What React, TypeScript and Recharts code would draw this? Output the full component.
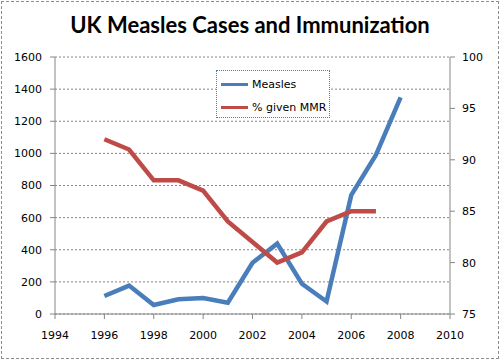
import React from "react";
import { ComposedChart, Line, XAxis, YAxis, CartesianGrid, Legend } from "recharts";

const years = [1996, 1997, 1998, 1999, 2000, 2001, 2002, 2003, 2004, 2005, 2006, 2007, 2008];
const measles = [112, 177, 56, 92, 100, 70, 319, 438, 188, 78, 740, 990, 1348];
const mmr: (number | null)[] = [92, 91, 88, 88, 87, 84, 82, 80, 81, 84, 85, 85, null];
const xTicks = [1994, 1996, 1998, 2000, 2002, 2004, 2006, 2008, 2010];
const leftTicks = [0, 200, 400, 600, 800, 1000, 1200, 1400, 1600];
const rightTicks = [75, 80, 85, 90, 95, 100];

const data = years.map((y, i) => ({ year: y, measles: measles[i], mmr: mmr[i] }));

const BLUE = "#4a7ebb";
const RED = "#be4b48";
const AXIS = "#868686";
const FONT = "DejaVu Sans";

const LegendBox = () => (
  <div
    style={{
      width: 112,
      height: 46,
      border: `1px dotted ${BLUE}`,
      background: "#fff",
      fontFamily: FONT,
      fontSize: 11,
      color: "#000",
      position: "relative",
    }}
  >
    {[
      { label: "Measles", color: BLUE, top: 13 },
      { label: "% given MMR", color: RED, top: 36 },
    ].map((it) => (
      <div key={it.label} style={{ position: "absolute", left: 4, top: it.top - 7, height: 14, display: "flex", alignItems: "center" }}>
        <div style={{ width: 27, height: 3, background: it.color }} />
        <span style={{ marginLeft: 4, whiteSpace: "nowrap" }}>{it.label}</span>
      </div>
    ))}
  </div>
);

export default function App() {
  return (
    <div style={{ position: "absolute", left: 0, top: 0, width: 500, height: 360, background: "#fff" }}>
      <div
        style={{
          position: "absolute",
          left: 1,
          top: 1,
          width: 496,
          height: 356,
          border: "1px dashed #8c8c8c",
          pointerEvents: "none",
        }}
      />
      <div
        style={{
          position: "absolute",
          left: 0,
          top: 12,
          width: 500,
          textAlign: "center",
          fontFamily: "Lato",
          fontWeight: 700,
          fontSize: 22,
          color: "#000",
          lineHeight: "26px",
        }}
      >
        UK Measles Cases and Immunization
      </div>
      <ComposedChart
        width={500}
        height={360}
        data={data}
        margin={{ top: 57, right: 10, bottom: 16, left: 0 }}
        style={{ position: "absolute", left: 0, top: 0 }}
      >
        <CartesianGrid yAxisId="left" vertical={false} stroke={AXIS} strokeDasharray="2 2" />
        <XAxis
          dataKey="year"
          type="number"
          domain={[1994, 2010]}
          ticks={xTicks}
          interval={0}
          height={30}
          tickSize={5}
          tickMargin={12}
          stroke={AXIS}
          tick={{ fill: "#000", fontFamily: FONT, fontSize: 11 }}
        />
        <YAxis
          yAxisId="left"
          orientation="left"
          domain={[0, 1600]}
          ticks={leftTicks}
          interval={0}
          width={55}
          tickSize={5}
          tickMargin={8}
          stroke={AXIS}
          tick={{ fill: "#000", fontFamily: FONT, fontSize: 11 }}
        />
        <YAxis
          yAxisId="right"
          orientation="right"
          domain={[75, 100]}
          ticks={rightTicks}
          interval={0}
          width={40}
          tickSize={5}
          tickMargin={7}
          stroke={AXIS}
          tick={{ fill: "#000", fontFamily: FONT, fontSize: 11 }}
        />
        <Legend
          layout="horizontal"
          verticalAlign="middle"
          align="center"
          content={() => <LegendBox />}
          wrapperStyle={{ position: "absolute", left: 216, top: 70, width: 114, height: 48 }}
        />
        <Line
          yAxisId="left"
          dataKey="measles"
          name="Measles"
          stroke={BLUE}
          strokeWidth={4.5}
          dot={false}
          isAnimationActive={false}
        />
        <Line
          yAxisId="right"
          dataKey="mmr"
          name="% given MMR"
          stroke={RED}
          strokeWidth={4.5}
          dot={false}
          isAnimationActive={false}
        />
      </ComposedChart>
    </div>
  );
}
